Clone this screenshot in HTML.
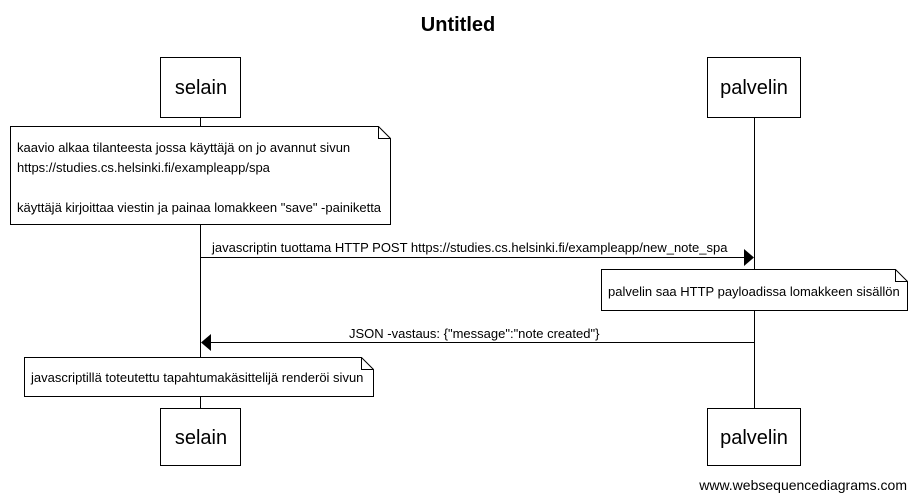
<!DOCTYPE html>
<html><head><meta charset="utf-8"><style>html,body{margin:0;padding:0;background:#fff}svg{display:block}</style></head>
<body>
<svg width="917" height="500" xmlns="http://www.w3.org/2000/svg" font-family="Liberation Sans, Arial, sans-serif">
<rect width="917" height="500" fill="#fff"/>
<text x="458" y="31" text-anchor="middle" font-size="20" font-weight="bold">Untitled</text>
<g stroke="#000" stroke-width="1" fill="none">
<line x1="200.5" y1="117" x2="200.5" y2="408"/>
<line x1="754.5" y1="117" x2="754.5" y2="408"/>
<rect x="160.5" y="57.5" width="80" height="60" fill="#fff"/>
<rect x="707.5" y="57.5" width="93" height="60" fill="#fff"/>
<rect x="160.5" y="408.5" width="80" height="57" fill="#fff"/>
<rect x="707.5" y="408.5" width="93" height="57" fill="#fff"/>
<path d="M10.5 126.5 H378.5 L390.5 138.5 V224.5 H10.5 Z M378.5 126.5 V138.5 H390.5" fill="#fff"/>
<path d="M601.5 269.5 H895.5 L907.5 281.5 V310.5 H601.5 Z M895.5 269.5 V281.5 H907.5" fill="#fff"/>
<path d="M24.5 357.5 H361.5 L373.5 369.5 V396.5 H24.5 Z M361.5 357.5 V369.5 H373.5" fill="#fff"/>
<line x1="200.5" y1="257.5" x2="744" y2="257.5"/>
<line x1="210" y1="342.5" x2="754.5" y2="342.5"/>
</g>
<polygon points="744,249 754,257.5 744,266" fill="#000"/>
<polygon points="211,334 201,342.5 211,351" fill="#000"/>
<g font-size="20" text-anchor="middle">
<text x="201" y="94">selain</text>
<text x="754" y="94">palvelin</text>
<text x="201" y="444">selain</text>
<text x="754" y="444">palvelin</text>
</g>
<g font-size="13">
<text x="17" y="152">kaavio alkaa tilanteesta jossa käyttäjä on jo avannut sivun</text>
<text x="17" y="172">https://studies.cs.helsinki.fi/exampleapp/spa</text>
<text x="17" y="212">käyttäjä kirjoittaa viestin ja painaa lomakkeen "save" -painiketta</text>
<text x="212" y="252">javascriptin tuottama HTTP POST https://studies.cs.helsinki.fi/exampleapp/new_note_spa</text>
<text x="608" y="296">palvelin saa HTTP payloadissa lomakkeen sisällön</text>
<text x="349" y="338">JSON -vastaus: {"message":"note created"}</text>
<text x="31" y="382">javascriptillä toteutettu tapahtumakäsittelijä renderöi sivun</text>
</g>
<text x="907" y="490" text-anchor="end" font-size="14">www.websequencediagrams.com</text>
</svg>
</body></html>
